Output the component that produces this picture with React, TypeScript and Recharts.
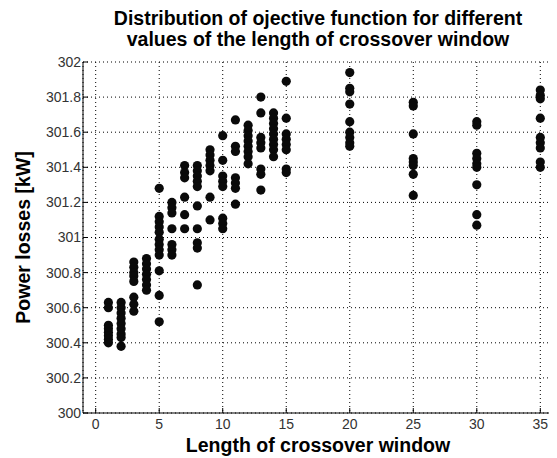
import React from 'react';
import { ScatterChart, Scatter, XAxis, YAxis, CartesianGrid } from 'recharts';

const windowLengths = [1, 2, 3, 4, 5, 6, 7, 8, 9, 10, 11, 12, 13, 14, 15, 20, 25, 30, 35];

const losses1 = [300.63, 300.60, 300.50, 300.48, 300.46, 300.44, 300.42, 300.40];
const losses2 = [300.63, 300.60, 300.57, 300.54, 300.51, 300.48, 300.45, 300.43, 300.38];
const losses3 = [300.86, 300.83, 300.80, 300.78, 300.75, 300.66, 300.62, 300.58];
const losses4 = [300.88, 300.85, 300.82, 300.79, 300.76, 300.73, 300.70];
const losses5 = [301.28, 301.12, 301.09, 301.06, 301.03, 300.99, 300.96, 300.93, 300.90, 300.81, 300.67, 300.52];
const losses6 = [301.20, 301.17, 301.14, 301.05, 300.96, 300.93, 300.90];
const losses7 = [301.41, 301.37, 301.34, 301.23, 301.13, 301.05];
const losses8 = [301.41, 301.38, 301.35, 301.32, 301.29, 301.18, 301.05, 300.97, 300.94, 300.73];
const losses9 = [301.50, 301.47, 301.44, 301.41, 301.38, 301.23, 301.10];
const losses10 = [301.58, 301.44, 301.35, 301.32, 301.29, 301.11, 301.08, 301.05];
const losses11 = [301.67, 301.52, 301.49, 301.34, 301.31, 301.28, 301.19];
const losses12 = [301.64, 301.61, 301.58, 301.55, 301.52, 301.49, 301.46, 301.42];
const losses13 = [301.80, 301.71, 301.57, 301.54, 301.51, 301.39, 301.36, 301.27];
const losses14 = [301.71, 301.68, 301.65, 301.62, 301.59, 301.56, 301.53, 301.50, 301.46];
const losses15 = [301.89, 301.68, 301.59, 301.56, 301.53, 301.50, 301.39, 301.37];
const losses20 = [301.94, 301.85, 301.83, 301.76, 301.66, 301.60, 301.57, 301.54, 301.52];
const losses25 = [301.77, 301.75, 301.59, 301.45, 301.43, 301.41, 301.36, 301.24];
const losses30 = [301.66, 301.64, 301.48, 301.45, 301.42, 301.40, 301.30, 301.13, 301.07];
const losses35 = [301.84, 301.81, 301.79, 301.68, 301.57, 301.54, 301.51, 301.43, 301.40];

const lossesByWindow = [
  losses1, losses2, losses3, losses4, losses5, losses6, losses7, losses8, losses9, losses10,
  losses11, losses12, losses13, losses14, losses15, losses20, losses25, losses30, losses35,
];

const xTicks = [0, 5, 10, 15, 20, 25, 30, 35];
const yTicks = [300, 300.2, 300.4, 300.6, 300.8, 301, 301.2, 301.4, 301.6, 301.8, 302];

const titleLines = [
  'Distribution of ojective function for different',
  'values of the length of crossover window',
];
const xLabel = 'Length of crossover window';
const yLabel = 'Power losses [kW]';

const data = windowLengths.flatMap((w, i) => lossesByWindow[i].map((v) => ({ window: w, loss: v })));

const W = 549;
const H = 450;
const FONT = '"Liberation Sans", Arial, sans-serif';
const tickStyle = { fontSize: 14, fill: '#333', fontFamily: FONT };
const labelStyle = { fontSize: 19.5, fontWeight: 700, fill: '#000', fontFamily: FONT };

const Dot = (props: any) => <circle cx={props.cx} cy={props.cy} r={4.6} fill="#0a0a0a" />;

const fmtY = (v: number) => String(Number(v.toFixed(1)));

export default function App() {
  return (
    <div style={{ position: 'relative', width: W, height: H }}>
      <div
        style={{
          position: 'absolute',
          left: 75,
          top: 0,
          width: 470,
          textAlign: 'center',
          fontFamily: FONT,
          fontWeight: 700,
          fontSize: 19.5,
          lineHeight: '21px',
          color: '#000',
          whiteSpace: 'nowrap',
        }}
      >
        {titleLines.map((t) => (
          <div key={t}>{t}</div>
        ))}
      </div>
      <ScatterChart width={W} height={H} margin={{ top: 54, right: 4, bottom: 0, left: 0 }}>
        <CartesianGrid stroke="#000" strokeDasharray="1 3" ticks={undefined as any} />
        <XAxis
          type="number"
          dataKey="window"
          domain={[-1, 36]}
          ticks={xTicks}
          allowDataOverflow
          height={45}
          tickSize={-5}
          tickMargin={11}
          tick={tickStyle}
          stroke="#000"
          axisLine={{ stroke: '#000' }}
          tickLine={{ stroke: '#000' }}
          label={{ value: xLabel, position: 'insideBottom', offset: 6, style: labelStyle }}
        />
        <XAxis
          xAxisId="top"
          orientation="top"
          type="number"
          domain={[-1, 36]}
          ticks={xTicks}
          allowDataOverflow
          height={0}
          tickSize={-5}
          tickFormatter={() => ''}
          axisLine={{ stroke: '#000' }}
          tickLine={{ stroke: '#000' }}
        />
        <YAxis
          type="number"
          dataKey="loss"
          domain={[300, 302]}
          ticks={yTicks}
          allowDataOverflow
          width={75}
          tickSize={-5}
          tickMargin={7}
          tick={tickStyle}
          tickFormatter={fmtY}
          axisLine={{ stroke: '#000' }}
          tickLine={{ stroke: '#000' }}
          label={{
            value: yLabel,
            angle: -90,
            position: 'insideLeft',
            offset: 15,
            style: { ...labelStyle, textAnchor: 'middle' },
          }}
        />
        <YAxis
          yAxisId="right"
          orientation="right"
          type="number"
          domain={[300, 302]}
          ticks={yTicks}
          allowDataOverflow
          width={0}
          tickSize={-5}
          tickFormatter={() => ''}
          axisLine={{ stroke: '#000' }}
          tickLine={{ stroke: '#000' }}
        />
        <Scatter data={data} shape={Dot} isAnimationActive={false} />
      </ScatterChart>
    </div>
  );
}
